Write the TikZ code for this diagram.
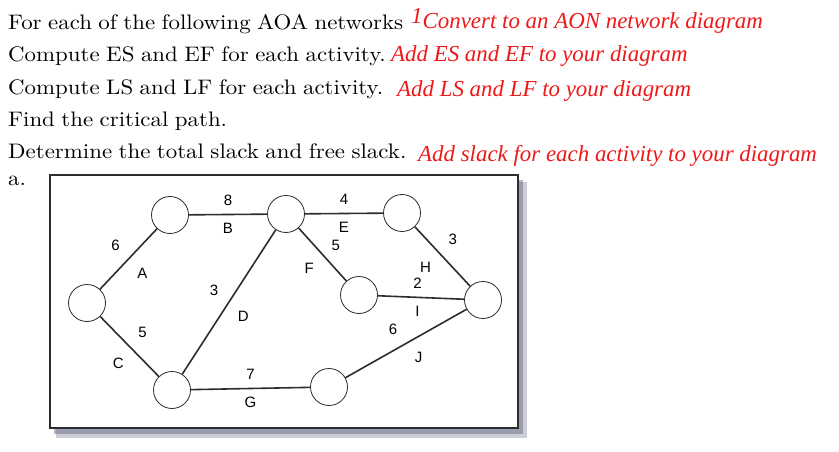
\documentclass[tikz,border=0pt]{standalone}
\usepackage{fontspec}
\usepackage{tikz}
\usetikzlibrary{positioning}
\newfontfamily\lblfont{Liberation Sans}
\newfontfamily\notefont{Liberation Serif}
\newfontfamily\qfont{lmroman10-regular.otf}[FakeStretch=1.09, WordSpace=0.85]
\definecolor{notered}{RGB}{238,24,24}
\definecolor{edgegray}{RGB}{45,45,45}
\definecolor{shadowblue}{RGB}{105,110,135}

\begin{document}
\begin{tikzpicture}[x=1pt, y=-1pt,
        event/.style={circle, draw=edgegray, fill=white, line width=0.8pt,
                      minimum size=37pt, inner sep=0pt},
        lbl/.style={font=\lblfont\fontsize{15}{15}\selectfont, inner sep=8pt},
        task/.style={draw=edgegray, line width=1.6pt},
        line/.style={anchor=base west, inner sep=0pt,
                     font=\qfont\fontsize{21}{25}\selectfont},
        note/.style={anchor=base west, inner sep=0pt, text=notered,
                     font=\notefont\itshape\fontsize{22.9}{27}\selectfont}]
      \useasboundingbox (0,0) rectangle (839,452);

      % questions
      \node[line] (q1) at (8,30) {For each of the following AOA networks};
      \node[line] (q2) at (8,62) {Compute ES and EF for each activity.};
      \node[line] (q3) at (8,95) {Compute LS and LF for each activity.};
      \node[line] (q4) at (8,127) {Find the critical path.};
      \node[line] (q5) at (8,158) {Determine the total slack and free slack.};
      \node[line] (qa) at (8,185) {a.};

      % red notes
      \node[note] (r1) at (411,29) {\raisebox{5pt}{1}Convert to an AON network diagram};
      \node[note] (r2) at (391,62) {Add ES and EF to your diagram};
      \node[note] (r3) at (397,96) {Add LS and LF to your diagram};
      \node[note] (r4) at (418,161) {Add slack for each activity to your diagram};

      % frame
      \fill[shadowblue, opacity=0.35] (56,182) rectangle (527,438);
      \fill[shadowblue, opacity=0.5] (54,180) rectangle (523,434);
      \fill[white] (50,175) rectangle (518,428);
      \draw[edgegray, line width=1.2pt] (50,175) rectangle (518,428);

      % events
      \node[event] (ev1) at (87,303) {};
      \node[event] (ev2) at (170,215) {};
      \node[event] (ev3) at (286,214) {};
      \node[event] (ev4) at (402,213) {};
      \node[event] (ev5) at (359,295) {};
      \node[event] (ev6) at (483,300) {};
      \node[event] (ev7) at (172,390) {};
      \node[event] (ev8) at (329,387) {};

      % activities
      \draw[task] (ev1) -- node[lbl, above left]{6} node[lbl, below right]{A} (ev2);
      \draw[task] (ev2) -- node[lbl, above]{8} node[lbl, below]{B} (ev3);
      \draw[task] (ev1) -- node[lbl, above right]{5} node[lbl, below left, pos=.55]{C} (ev7);
      \draw[task] (ev7) -- node[lbl, above left, pos=.48]{3} node[lbl, below right]{D} (ev3);
      \draw[task] (ev3) -- node[lbl, above]{4} node[lbl, below]{E} (ev4);
      \draw[task] (ev3) -- node[lbl, above right, pos=.55, inner sep=6pt]{5} node[lbl, below left]{F} (ev5);
      \draw[task] (ev7) -- node[lbl, above]{7} node[lbl, below]{G} (ev8);
      \draw[task] (ev4) -- node[lbl, above right, pos=.45]{3} node[lbl, below left, pos=.45]{H} (ev6);
      \draw[task] (ev5) -- node[lbl, above, pos=.46]{2} node[lbl, below, pos=.46]{I} (ev6);
      \draw[task] (ev8) -- node[lbl, above left]{6} node[lbl, below right]{J} (ev6);
    \end{tikzpicture}
\end{document}
